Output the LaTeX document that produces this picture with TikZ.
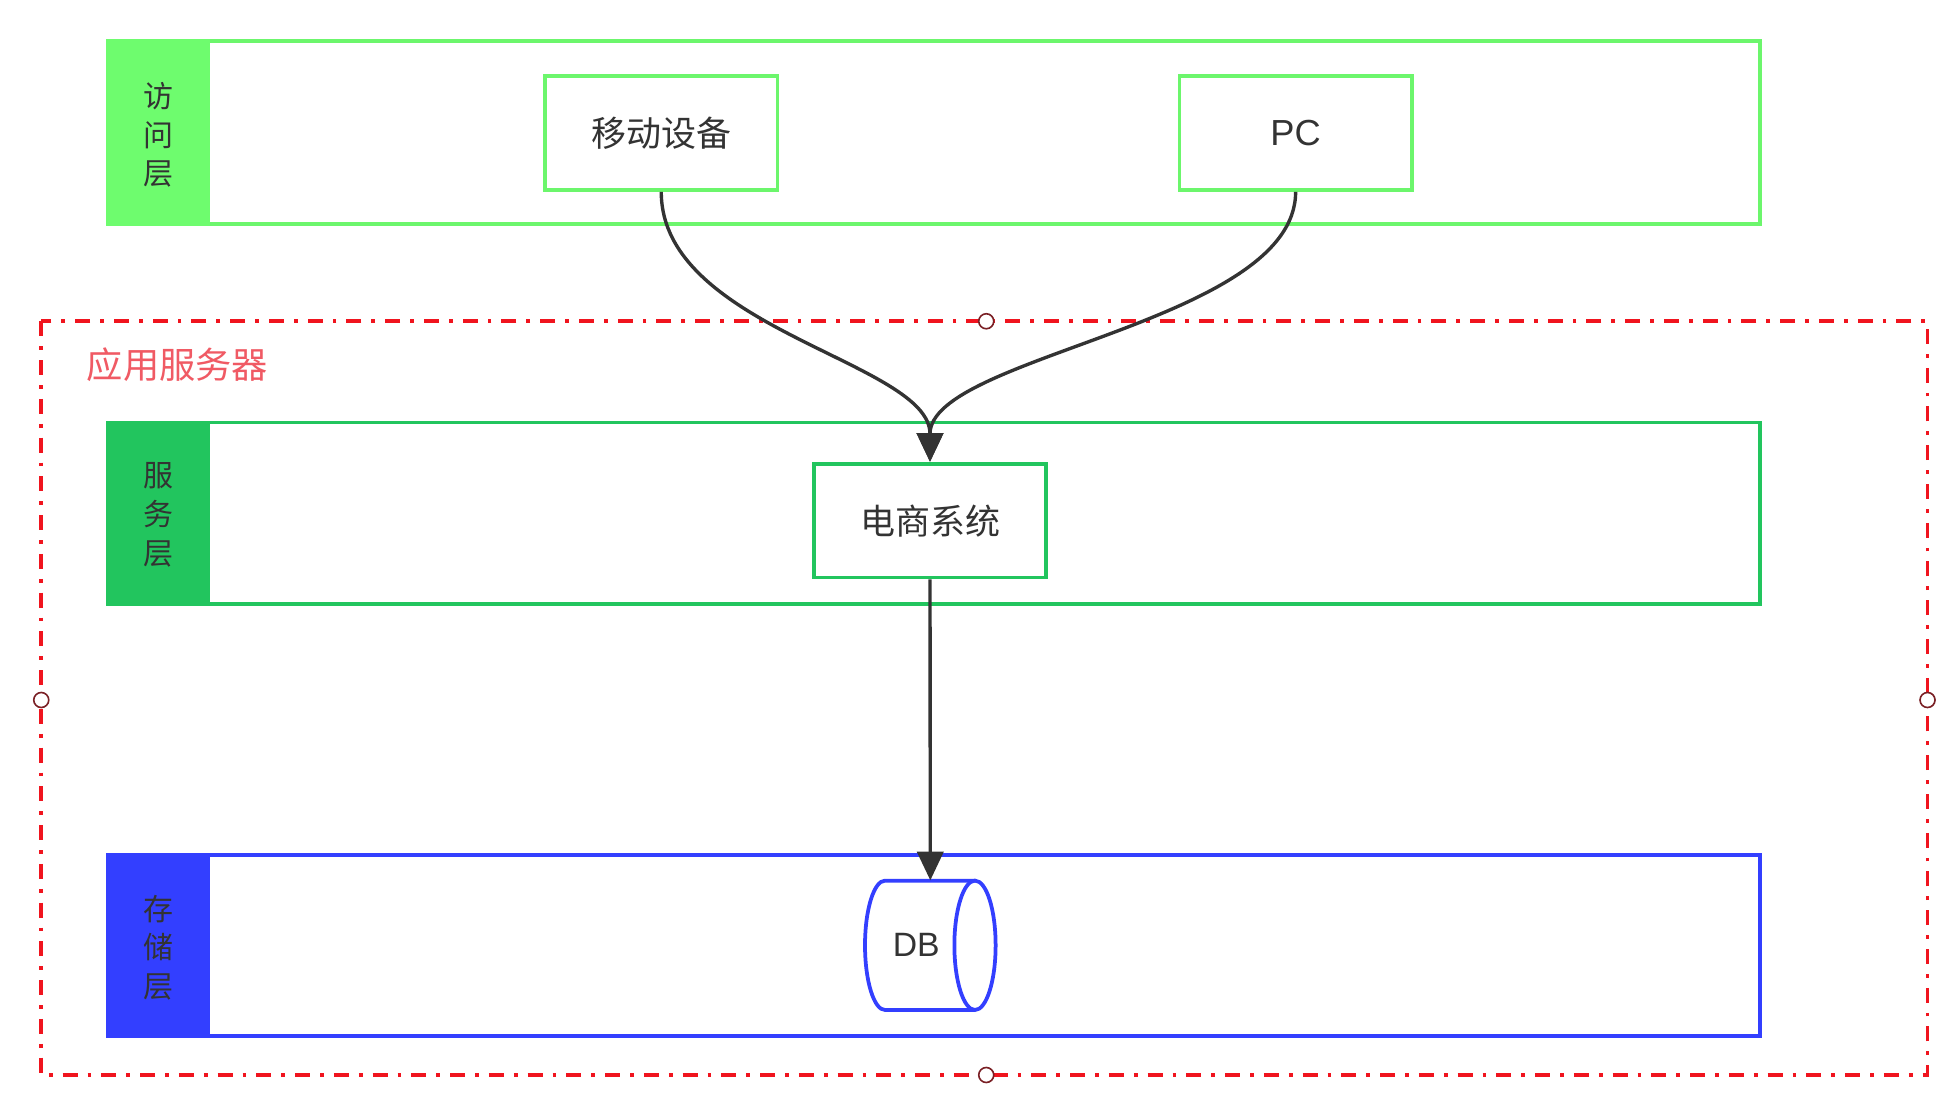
\documentclass[tikz,border=0pt]{standalone}
\usepackage{fontspec}
\setmainfont{Liberation Sans}
\newfontfamily\cjk{Noto Sans CJK SC}
\usetikzlibrary{arrows.meta}
\definecolor{accgreen}{HTML}{6CF66C}
\definecolor{accfill}{HTML}{6EFC6E}
\definecolor{svcgreen}{HTML}{22C55E}
\definecolor{stoblue}{HTML}{333FFF}
\definecolor{redline}{HTML}{F0141E}
\definecolor{redtext}{HTML}{F05A64}
\definecolor{darktxt}{HTML}{333333}
\definecolor{handlecol}{HTML}{7A2025}
\tikzset{
  layerbox/.style={line width=3pt},
  itembox/.style={draw, line width=3pt, fill=white, minimum width=186pt, minimum height=91pt, inner sep=0pt,
    text=darktxt, font=\cjk\fontsize{28}{34}\selectfont},
  layerlabel/.style={align=center, text=darktxt, inner sep=0pt, font=\cjk\fontsize{24}{31}\selectfont},
  conn/.style={draw=darktxt, line width=2.7pt, -{Triangle[width=21pt,length=23pt]}},
  handle/.style={circle, draw=handlecol, fill=white, line width=1.3pt, minimum size=12pt, inner sep=0pt},
}
\begin{document}
\begin{tikzpicture}[x=1pt,y=-1pt]
\useasboundingbox[fill=white] (0,0) rectangle (1568,877);

% application server dash-dot frame
\draw[redline, line width=3pt, dash pattern=on 12pt off 8pt on 3pt off 8pt]
  (33,257) rectangle (1542,860);
\node[text=redtext, font=\cjk\fontsize{29}{34}\selectfont, inner sep=0pt] (appsrv) at (142,292) {应用服务器};

% access layer
\draw[layerbox, draw=accgreen] (86,33) rectangle (1408,179);
\fill[accfill] (84.5,31.5) rectangle (168,180.5);
\node[layerlabel] (acclab) at (127,108) {访\\问\\层};

% service layer
\draw[layerbox, draw=svcgreen] (86,338) rectangle (1408,483);
\fill[svcgreen] (84.5,336.5) rectangle (168,484.5);
\node[layerlabel] (svclab) at (127,412) {服\\务\\层};

% storage layer
\draw[layerbox, draw=stoblue] (86,684) rectangle (1408,829);
\fill[stoblue] (84.5,682.5) rectangle (168,830.5);
\node[layerlabel] (stolab) at (127,758) {存\\储\\层};

% item boxes
\node[itembox, draw=accgreen] (mob) at (529,106.5) {移动设备};
\node[itembox, draw=accgreen, font=\fontsize{29}{34}\selectfont] (pc) at (1036.5,106.5) {PC};
\node[itembox, draw=svcgreen] (ecom) at (744,416.5) {电商系统};

% DB cylinder
\node[minimum width=104.5pt, minimum height=103.5pt, inner sep=0pt] (db) at (744.25,756.25) {};
\draw[draw=stoblue, line width=3pt, fill=white]
  (780,704.5) -- (708,704.5) arc[start angle=90, end angle=270, x radius=16pt, y radius=51.75pt]
  -- (780,808);
\draw[draw=stoblue, line width=3pt, fill=white] (780,756.25) ellipse[x radius=16.5pt, y radius=51.75pt];
\node[text=darktxt, font=\fontsize{27}{32}\selectfont, inner sep=0pt] (dblab) at (733,756) {DB};

% connectors
\draw[conn] (mob.south) .. controls +(0,110) and +(0,-80) .. (ecom.north);
\draw[conn] (pc.south) .. controls +(0,105) and +(0,-85) .. (ecom.north);
\draw[conn] (ecom.south) -- (db.north);

% selection handles
\node[handle] (h1) at (789,257) {};
\node[handle] (h2) at (33,560) {};
\node[handle] (h3) at (1542,560) {};
\node[handle] (h4) at (789,860) {};
\end{tikzpicture}
\end{document}
